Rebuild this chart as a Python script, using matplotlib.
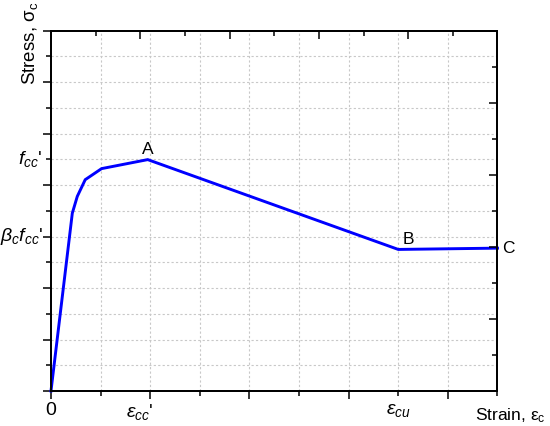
import matplotlib
matplotlib.use("Agg")
import matplotlib.pyplot as plt
from matplotlib.ticker import MultipleLocator

plt.rcParams['font.family'] = ['Liberation Sans', 'DejaVu Sans']
plt.rcParams['mathtext.fontset'] = 'custom'
plt.rcParams['mathtext.rm'] = 'Liberation Sans'
plt.rcParams['mathtext.it'] = 'Liberation Sans:italic'
plt.rcParams['mathtext.bf'] = 'Liberation Sans:bold'

# data (x in strain-tick units, y in stress-tick units)
strain = [0.0, 0.43, 0.53, 0.69, 1.02, 1.87, 1.95, 7.0, 9.0]
stress = [0.0, 6.91, 7.56, 8.21, 8.64, 8.96, 8.99, 5.5, 5.55]
point_labels = ["A", "B", "C"]
point_idx = [6, 7, 8]
xtick_pos = [0, 2, 7]
xtick_labels = ["0", r"$\varepsilon_{cc}$'", r"$\varepsilon_{cu}$"]
ytick_pos = [6, 9]
ytick_labels = [r"$\beta_c f_{cc}$'", r"$f_{cc}$'"]

fig = plt.figure(figsize=(5.5, 4.26), dpi=100)
ax = fig.add_axes([0.0927, 0.0822, 0.8118, 0.8458])
ax.set_xlim(0, 9)
ax.set_ylim(0, 14)

ax.plot(strain, stress, color='#0000ff', lw=2.1, solid_joinstyle='miter', zorder=5, clip_on=False)

# grid at every tick
for xv in range(1, 9):
    ax.axvline(xv, color='#c8c8c8', lw=0.8, ls=(0, (2, 2)), zorder=1)
for yv in range(1, 14):
    ax.axhline(yv, color='#c8c8c8', lw=0.8, ls=(0, (2, 2)), zorder=1)

ax.xaxis.set_major_locator(MultipleLocator(2))
ax.xaxis.set_minor_locator(MultipleLocator(1))
ax.yaxis.set_major_locator(MultipleLocator(2))
ax.yaxis.set_minor_locator(MultipleLocator(1))
ax.tick_params(which='major', direction='out', length=6, width=1.1, labelbottom=False, labelleft=False)
ax.tick_params(which='minor', direction='out', length=3.5, width=1.1)

for s in ax.spines.values():
    s.set_linewidth(1.2)

# custom tick labels
xt_ha = ['center', 'right', 'center']
xt_dx = [0, 2, 0]
for xp, xl, ha, dx in zip(xtick_pos, xtick_labels, xt_ha, xt_dx):
    ax.annotate(xl, (xp, 0), xytext=(dx, -8), textcoords='offset points',
                ha=ha, va='top', fontsize=14, annotation_clip=False)
for yp, yl in zip(ytick_pos, ytick_labels):
    ax.annotate(yl, (0, yp), xytext=(-6, 0), textcoords='offset points',
                ha='right', va='center', fontsize=14, annotation_clip=False)

fig.text(0.864, 0.025, r"Strain, $\mathrm{\varepsilon_c}$", ha='left', va='center', fontsize=12.5)
fig.text(0.055, 0.997, r"Stress, $\mathrm{\sigma_c}$", rotation=90,
         ha='center', va='top', fontsize=13.5)

# top axis
axt = ax.twiny()
axt.set_xlim(0, 10)
axt.xaxis.set_major_locator(MultipleLocator(2))
axt.xaxis.set_minor_locator(MultipleLocator(1))
axt.tick_params(which='major', direction='in', length=6, width=1.1, labeltop=False)
axt.tick_params(which='minor', direction='in', length=3.5, width=1.1)
# right axis
axr = ax.twinx()
axr.set_ylim(0, 10)
axr.yaxis.set_major_locator(MultipleLocator(2))
axr.yaxis.set_minor_locator(MultipleLocator(1))
axr.tick_params(which='major', direction='in', length=6, width=1.1, labelright=False)
axr.tick_params(which='minor', direction='in', length=3.5, width=1.1)
for a in (axt, axr):
    for s in a.spines.values():
        s.set_linewidth(1.2)

offsets = [(0, 7, 'center'), (7, 7, 'center'), (3, 0, 'left')]
for lab, i, (dx, dy, ha) in zip(point_labels, point_idx, offsets):
    ax.annotate(lab, (strain[i], stress[i]), xytext=(dx, dy), textcoords='offset points',
                ha=ha, va='center', fontsize=12.5)

fig.savefig("out.png", dpi=100)
